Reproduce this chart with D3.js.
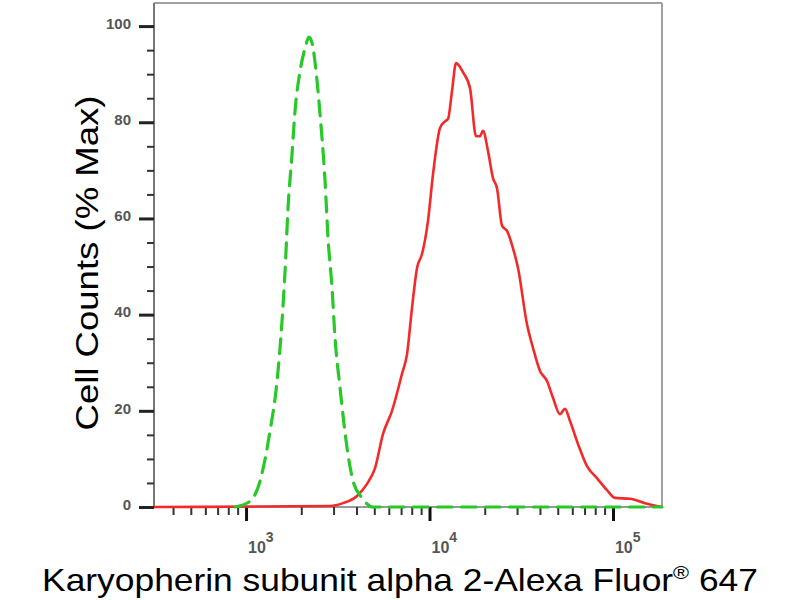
<!DOCTYPE html>
<html>
<head>
<meta charset="utf-8">
<script src="https://cdn.jsdelivr.net/npm/d3@7/dist/d3.min.js"></script>
<style>
  body { margin: 0; background: #fff; }
  svg { display: block; }
</style>
</head>
<body>
<svg id="chart" width="800" height="600"></svg>
<script>
// ---- data ----
const redX = [315, 2869, 3378, 4025, 4564, 5047, 5580, 6246, 7082, 7542, 8026, 8551, 9102, 9813, 10450, 11410, 12150, 12620, 13265, 13950, 15225, 16625, 17925, 18850, 19565, 20840, 22180, 23330, 24840, 26440, 28510, 30360, 33990, 36640, 40010, 43690, 47100, 51430, 54750, 58310, 64450, 72170, 81790, 92760, 102500, 123800, 149400, 184900];
const redY = [0, 0.2, 0.8, 2.3, 4.8, 8.1, 15.2, 20.0, 27.7, 31.8, 41.4, 49.7, 52.6, 59.5, 69.2, 78.8, 80.2, 80.7, 86.5, 92.3, 90.4, 87.1, 77.1, 77.1, 78.2, 74.0, 68.4, 66.3, 58.5, 57.4, 53.8, 49.7, 38.0, 33.1, 28.3, 26.2, 22.7, 19.3, 20.4, 17.9, 13.1, 8.5, 6.0, 3.5, 1.9, 1.7, 0.8, 0];

const greenX = [871, 1051, 1192, 1351, 1476, 1571, 1632, 1694, 1781, 1849, 1969, 2097, 2204, 2289, 2438, 2531, 2695, 2798, 2942, 3055, 3253, 3552, 3830, 4287, 4922, 184900];
const greenY = [0, 1.2, 5.4, 15.8, 26.2, 38.7, 49.1, 62.2, 73.4, 82.3, 90.6, 95.4, 97.7, 96.5, 88.6, 81.7, 67.8, 56.0, 45.6, 35.2, 24.8, 12.3, 5.4, 1.9, 0, 0];

const yMajorTicks = [0, 20, 40, 60, 80, 100];
const xMajorTicks = [1000, 10000, 100000];
const xMajorExp = ["3", "4", "5"];
const xTitle = "Karyopherin subunit alpha 2-Alexa Fluor";
const xTitleSup = "®";
const xTitleTail = " 647";
const yTitle = "Cell Counts (% Max)";

// ---- layout ----
const svg = d3.select("#chart");
const L = 154, R = 662, T = 3, B = 507;
const FONT = "Liberation Sans, Arial, sans-serif";

const x = d3.scaleLog().domain([315, 185000]).range([L, R]);
const y = d3.scaleLinear().domain([0, 104.8]).range([B, T]);

// frame (top & right lighter)
svg.append("line").attr("x1", L).attr("x2", R).attr("y1", T).attr("y2", T)
  .attr("stroke", "#a0a0a0").attr("stroke-width", 2);
svg.append("line").attr("x1", R).attr("x2", R).attr("y1", T).attr("y2", B)
  .attr("stroke", "#a0a0a0").attr("stroke-width", 2);

// y axis
const yMinor = d3.range(0, 101, 5).filter(v => !yMajorTicks.includes(v));
const yAxisMajor = d3.axisLeft(y).tickValues(yMajorTicks).tickSize(15).tickPadding(8).tickFormat(d3.format("d"));
const gy = svg.append("g").attr("transform", `translate(${L},0)`).call(yAxisMajor);
gy.select(".domain").attr("stroke", "#777").attr("stroke-width", 2).attr("d", `M0,${T}V${B}`);
gy.selectAll(".tick line").attr("stroke", "#222").attr("stroke-width", 3);
gy.selectAll(".tick text").attr("font-family", FONT)
  .attr("font-size", 15).attr("font-weight", "bold").attr("fill", "#555")
  .attr("dy", "0.15em");
const gyMinor = svg.append("g").attr("transform", `translate(${L},0)`)
  .call(d3.axisLeft(y).tickValues(yMinor).tickSize(7).tickFormat(""));
gyMinor.select(".domain").remove();
gyMinor.selectAll(".tick line").attr("stroke", "#333").attr("stroke-width", 2);

// x axis
const xMinor = [];
[100, 1000, 10000, 100000].forEach(dec => {
  for (let k = 2; k <= 9; k++) {
    const v = dec * k;
    if (v >= 315 && v <= 185000) xMinor.push(v);
  }
});
const gx = svg.append("g").attr("transform", `translate(0,${B})`)
  .call(d3.axisBottom(x).tickValues(xMajorTicks).tickSize(14).tickFormat(""));
gx.select(".domain").attr("stroke", "#999").attr("stroke-width", 2).attr("d", `M${L},0H${R}`);
gx.selectAll(".tick line").attr("stroke", "#111").attr("stroke-width", 3);
const gxMinor = svg.append("g").attr("transform", `translate(0,${B})`)
  .call(d3.axisBottom(x).tickValues(xMinor).tickSize(8).tickFormat(""));
gxMinor.select(".domain").remove();
gxMinor.selectAll(".tick line").attr("stroke", "#333").attr("stroke-width", 2);

// x tick labels 10^n
const xl = svg.append("g");
xMajorTicks.forEach((v, i) => {
  const t = xl.append("text")
    .attr("x", x(v) + 2).attr("y", 553)
    .attr("font-family", FONT)
    .attr("font-size", 16).attr("font-weight", "bold").attr("fill", "#555");
  t.append("tspan").text("10");
  t.append("tspan").attr("dy", -11).attr("font-size", 14).text(xMajorExp[i]);
});

// curves
const line = d3.line().x(d => x(d[0])).y(d => y(d[1])).curve(d3.curveMonotoneX);
const redData = redX.map((v, i) => [v, redY[i]]);
const greenData = greenX.map((v, i) => [v, greenY[i]]);

svg.append("path").datum(redData).attr("d", line)
  .attr("fill", "none").attr("stroke", "#f22a2a").attr("stroke-width", 2.6)
  .attr("stroke-linejoin", "round");
svg.append("path").datum(greenData).attr("d", line)
  .attr("fill", "none").attr("stroke", "#28c828").attr("stroke-width", 3.2)
  .attr("stroke-dasharray", "15,9").attr("stroke-linecap", "round");

// axis titles (stretched to the reference's extent)
function fitWidth(sel, target, cx, cy) {
  const w = sel.node().getBBox().width;
  const s = target / w;
  sel.attr("transform", `translate(${cx},${cy}) scale(${s},1)`);
}
const xt = svg.append("text")
  .attr("x", 0).attr("y", 0).attr("text-anchor", "middle")
  .attr("font-family", FONT)
  .attr("font-size", 31).attr("fill", "#000");
xt.append("tspan").text(xTitle);
xt.append("tspan").attr("dy", -12).attr("font-size", 19).text(xTitleSup);
xt.append("tspan").attr("dy", 12).text(xTitleTail);
fitWidth(xt, 716, 400, 591);

const yt = svg.append("text")
  .attr("x", 0).attr("y", 0).attr("text-anchor", "middle")
  .attr("font-family", FONT)
  .attr("font-size", 31).attr("fill", "#000")
  .text(yTitle);
{
  const w = yt.node().getBBox().width;
  const s = 335 / w;
  yt.attr("transform", `translate(98,263) rotate(-90) scale(${s},1)`);
}
</script>
</body>
</html>
